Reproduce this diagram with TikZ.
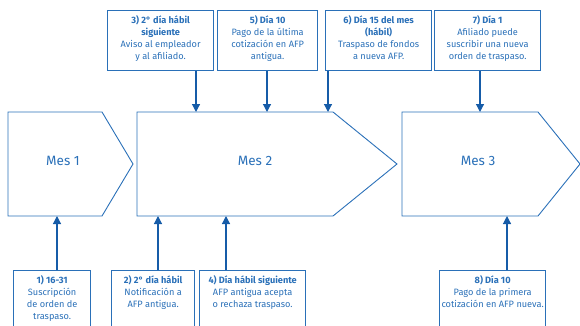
\documentclass[tikz,border=0pt]{standalone}
\usepackage{fontspec}
\setmainfont{Fira Sans}
\usetikzlibrary{arrows.meta}
\definecolor{cblue}{RGB}{42,112,184}
\definecolor{ablue}{RGB}{22,92,168}
\begin{document}
\begin{tikzpicture}[x=1pt,y=-1pt,
  evbox/.style={draw=cblue,line width=1.3pt,inner sep=0pt,anchor=north west},
  txt/.style={text=cblue,align=center,inner sep=0pt,anchor=north,font=\fontsize{9.2}{12}\selectfont},
  mes/.style={text=cblue,inner sep=0pt,font=\fontsize{13.5}{15}\selectfont},
  pent/.style={draw=cblue,line width=0.9pt},
  arr/.style={draw=ablue,line width=1.2pt,-{Triangle[width=8pt,length=8pt]}}]
\useasboundingbox (0,0) rectangle (580,325);
\clip (0,0) rectangle (580,325);
% month shapes
\draw[pent] (8,112) -- (102,112) -- (133,164) -- (102,216) -- (8,216) -- cycle;
\draw[pent] (137,112) -- (333,112) -- (397,164) -- (333,216) -- (137,216) -- cycle;
\draw[pent] (402,112) -- (538,112) -- (580,164) -- (538,216) -- (402,216) -- cycle;
\node[mes] (m1) at (63,161) {Mes 1};
\node[mes] (m2) at (255,161) {Mes 2};
\node[mes] (m3) at (478,161) {Mes 3};
% target coordinates
\coordinate (p3) at (196,112);
\coordinate (p5) at (267,112);
\coordinate (p6) at (328,112);
\coordinate (p7) at (480,112);
\coordinate (p1) at (57,216);
\coordinate (p2) at (158,216);
\coordinate (p4) at (226,216);
\coordinate (p8) at (507,216);
% top boxes
\node[evbox,minimum width=106pt,minimum height=60pt] (b3) at (107,10) {};
\node[evbox,minimum width=100pt,minimum height=60pt] (b5) at (217,10) {};
\node[evbox,minimum width=106pt,minimum height=60pt] (b6) at (325,10) {};
\node[evbox,minimum width=106pt,minimum height=60pt] (b7) at (434,10) {};
\node[txt] (t3) at ([yshift=-5.5pt]b3.north) {\textbf{3) 2° día hábil}\\\textbf{siguiente}\\Aviso al empleador\\y al afiliado.};
\node[txt] (t5) at ([yshift=-5.5pt]b5.north) {\textbf{5) Día 10}\\Pago de la última\\cotización en AFP\\antigua.};
\node[txt] (t6) at ([yshift=-5.5pt]b6.north) {\textbf{6) Día 15 del mes}\\\textbf{(hábil)}\\Traspaso de fondos\\a nueva AFP.};
\node[txt] (t7) at ([yshift=-5.5pt]b7.north) {\textbf{7) Día 1}\\Afiliado puede\\suscribir una nueva\\orden de traspaso.};
% bottom boxes
\node[evbox,minimum width=77pt,minimum height=70pt] (b1) at (13,270) {};
\node[evbox,minimum width=83pt,minimum height=70pt] (b2) at (111,270) {};
\node[evbox,minimum width=106pt,minimum height=70pt] (b4) at (199,270) {};
\node[evbox,minimum width=106pt,minimum height=70pt] (b8) at (439,270) {};
\node[txt] (t1) at ([yshift=-5.5pt]b1.north) {\textbf{1) 16-31}\\Suscripción\\de orden de\\traspaso.};
\node[txt] (t2) at ([yshift=-5.5pt]b2.north) {\textbf{2) 2° día hábil}\\Notificación a\\AFP antigua.};
\node[txt] (t4) at ([yshift=-5.5pt]b4.north) {\textbf{4) Día hábil siguiente}\\AFP antigua acepta\\o rechaza traspaso.};
\node[txt] (t8) at ([yshift=-5.5pt]b8.north) {\textbf{8) Día 10}\\Pago de la primera\\cotización en AFP nueva.};
% arrows
\draw[arr] (b3.south -| p3) -- (p3);
\draw[arr] (b5.south -| p5) -- (p5);
\draw[arr] (b6.south -| p6) -- (p6);
\draw[arr] (b7.south -| p7) -- (p7);
\draw[arr] (b1.north -| p1) -- (p1);
\draw[arr] (b2.north -| p2) -- (p2);
\draw[arr] (b4.north -| p4) -- (p4);
\draw[arr] (b8.north -| p8) -- (p8);
\end{tikzpicture}
\end{document}
